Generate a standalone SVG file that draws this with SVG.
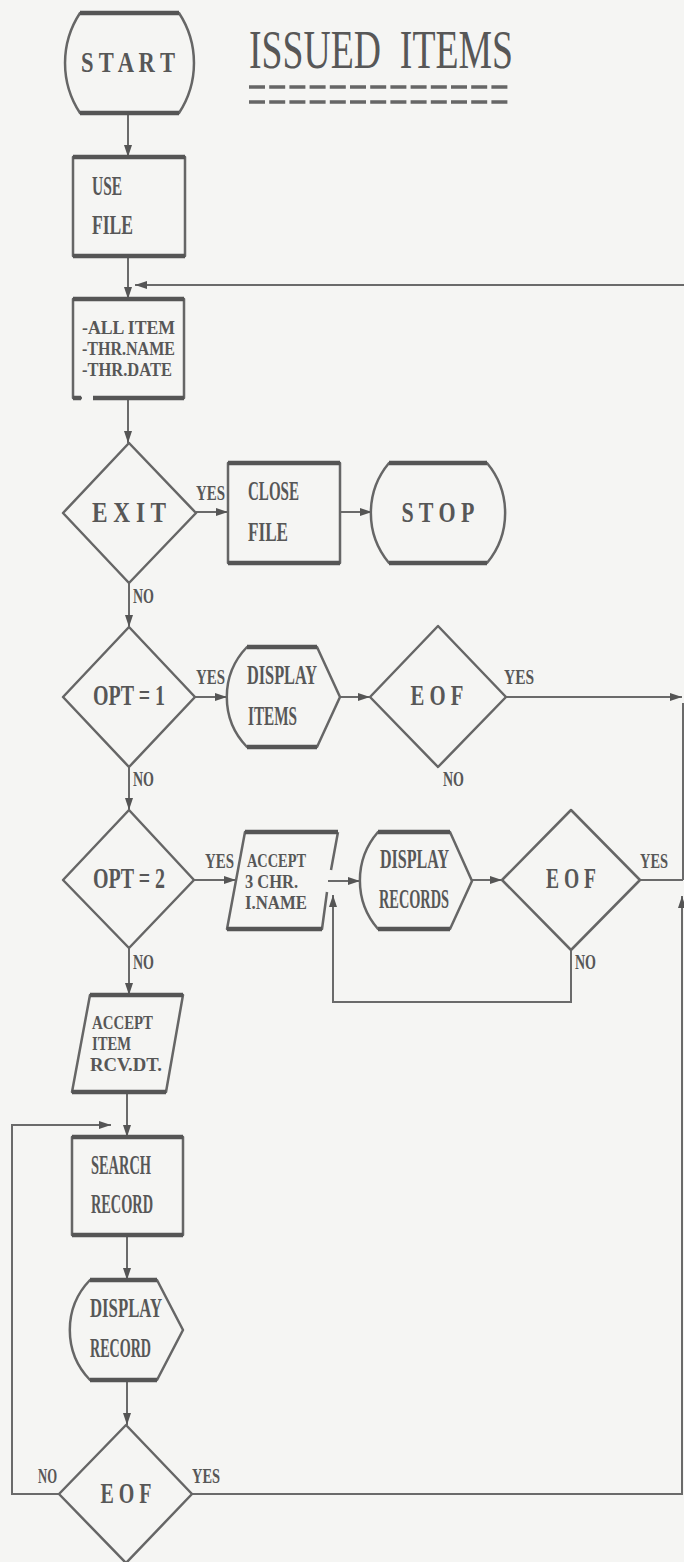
<svg xmlns="http://www.w3.org/2000/svg" width="684" height="1562" viewBox="0 0 684 1562">
<style>
.bg{fill:#f5f5f3}
.sh{fill:none;stroke:#666;stroke-width:2.5;stroke-linejoin:round}
.bd{fill:none;stroke:#555;stroke-width:4.5}
.cn{fill:none;stroke:#6a6a6a;stroke-width:2}
.ar{marker-end:url(#ah)}
text{font-family:"Liberation Serif","DejaVu Serif",serif;fill:#575757;font-weight:bold}
.ttl{font-size:54px;font-weight:normal;white-space:pre}
.c{font-size:29px;text-anchor:middle}
.l{font-size:27px}
.s{font-size:19px}
.y{font-size:22px}
</style>
<defs>
<marker id="ah" markerUnits="userSpaceOnUse" markerWidth="14" markerHeight="10" refX="12" refY="4" orient="auto">
<path d="M0,0 L12,4 L0,8 Z" fill="#555"/>
</marker>
</defs>
<rect class="bg" x="0" y="0" width="684" height="1562"/>

<g id="title">
<text class="ttl" x="249" y="68" textLength="264" lengthAdjust="spacingAndGlyphs">ISSUED  ITEMS</text>
<line x1="249" y1="87" x2="511" y2="87" stroke="#666" stroke-width="3.5" stroke-dasharray="16 4.2"/>
<line x1="249" y1="102" x2="511" y2="102" stroke="#666" stroke-width="3.5" stroke-dasharray="16 4.2"/>
</g>

<g id="connectors">
<path class="cn ar" d="M128,113 V157"/>
<path class="cn ar" d="M128,256 V299"/>
<path class="cn ar" d="M684,285 H135"/>
<path class="cn ar" d="M128,399 V443"/>
<path class="cn ar" d="M196,512 H228"/>
<path class="cn ar" d="M340,512 H372"/>
<path class="cn ar" d="M129,583 V627"/>
<path class="cn ar" d="M195,697 H227"/>
<path class="cn ar" d="M340,697 H370"/>
<path class="cn ar" d="M506,697 H682"/>
<path class="cn" d="M683,703 V880" stroke-width="1.5"/>
<path class="cn ar" d="M129,767 V810"/>
<path class="cn ar" d="M194,880 H236"/>
<path class="cn ar" d="M328,881 H360"/>
<path class="cn ar" d="M472,880 H502"/>
<path class="cn ar" d="M571,950 V1002 H333 V895"/>
<path class="cn" d="M640,880 H683"/>
<path class="cn ar" d="M129,948 V995"/>
<path class="cn ar" d="M127,1092 V1137"/>
<path class="cn ar" d="M59,1494 H12 V1125 H111"/>
<path class="cn ar" d="M127,1235 V1280"/>
<path class="cn ar" d="M127,1380 V1425"/>
<path class="cn ar" d="M192,1494 H682 V896"/>
</g>

<g id="start">
<path class="sh" d="M80,13 H179 A91,91 0 0 1 179,113 H80 A91,91 0 0 1 80,13 Z"/>
<line class="bd" x1="80" y1="13" x2="179" y2="13"/>
<line class="bd" x1="80" y1="113" x2="179" y2="113"/>
<text class="c" x="128" y="72" textLength="94" lengthAdjust="spacingAndGlyphs">S T A R T</text>
</g>

<g id="use-file">
<rect class="sh" x="73" y="157" width="112" height="99"/>
<line class="bd" x1="73" y1="157" x2="185" y2="157"/>
<line class="bd" x1="73" y1="256" x2="185" y2="256"/>
<text class="l" x="92" y="195" textLength="30" lengthAdjust="spacingAndGlyphs">USE</text>
<text class="l" x="92" y="234" textLength="41" lengthAdjust="spacingAndGlyphs">FILE</text>
</g>

<g id="options-menu">
<path class="sh" d="M82,398 H73 V299 H184 V398 H93"/>
<line class="bd" x1="73" y1="299" x2="184" y2="299"/>
<line class="bd" x1="73" y1="398" x2="81" y2="398"/>
<line class="bd" x1="93" y1="398" x2="184" y2="398"/>
<text class="s" x="82" y="334" textLength="93" lengthAdjust="spacingAndGlyphs">-ALL ITEM</text>
<text class="s" x="82" y="355" textLength="93" lengthAdjust="spacingAndGlyphs">-THR.NAME</text>
<text class="s" x="82" y="376" textLength="90" lengthAdjust="spacingAndGlyphs">-THR.DATE</text>
</g>

<g id="exit">
<path class="sh" d="M129,443 L196,513 L129,583 L63,513 Z"/>
<text class="c" x="129" y="522" textLength="74" lengthAdjust="spacingAndGlyphs">E X I T</text>
<text class="y" x="196" y="500" textLength="29" lengthAdjust="spacingAndGlyphs">YES</text>
<text class="y" x="133" y="603" textLength="21" lengthAdjust="spacingAndGlyphs">NO</text>
</g>

<g id="close-file">
<rect class="sh" x="228" y="463" width="112" height="100"/>
<line class="bd" x1="228" y1="463" x2="340" y2="463"/>
<line class="bd" x1="228" y1="563" x2="340" y2="563"/>
<text class="l" x="248" y="500" textLength="51" lengthAdjust="spacingAndGlyphs">CLOSE</text>
<text class="l" x="248" y="541" textLength="40" lengthAdjust="spacingAndGlyphs">FILE</text>
</g>

<g id="stop">
<path class="sh" d="M389,463 H487 A78,78 0 0 1 487,563 H389 A78,78 0 0 1 389,463 Z"/>
<line class="bd" x1="389" y1="463" x2="487" y2="463"/>
<line class="bd" x1="389" y1="563" x2="487" y2="563"/>
<text class="c" x="438" y="522" textLength="73" lengthAdjust="spacingAndGlyphs">S T O P</text>
</g>

<g id="opt1">
<path class="sh" d="M129,627 L195,697 L129,767 L63,697 Z"/>
<text class="c" x="129" y="705" textLength="72" lengthAdjust="spacingAndGlyphs">OPT = 1</text>
<text class="y" x="196" y="684" textLength="29" lengthAdjust="spacingAndGlyphs">YES</text>
<text class="y" x="133" y="786" textLength="21" lengthAdjust="spacingAndGlyphs">NO</text>
</g>

<g id="display-items">
<path class="sh" d="M247,647 H317 L340,697 L317,747 H247 A72,72 0 0 1 247,647 Z"/>
<line class="bd" x1="247" y1="647" x2="317" y2="647"/>
<line class="bd" x1="247" y1="747" x2="317" y2="747"/>
<text class="l" x="247" y="684" textLength="70" lengthAdjust="spacingAndGlyphs">DISPLAY</text>
<text class="l" x="248" y="725" textLength="49" lengthAdjust="spacingAndGlyphs">ITEMS</text>
</g>

<g id="eof1">
<path class="sh" d="M438,626 L506,697 L438,767 L370,697 Z"/>
<text class="c" x="437" y="705" textLength="53" lengthAdjust="spacingAndGlyphs">E O F</text>
<text class="y" x="504" y="684" textLength="30" lengthAdjust="spacingAndGlyphs">YES</text>
<text class="y" x="443" y="786" textLength="21" lengthAdjust="spacingAndGlyphs">NO</text>
</g>

<g id="opt2">
<path class="sh" d="M129,810 L194,880 L129,948 L63,880 Z"/>
<text class="c" x="129" y="888" textLength="72" lengthAdjust="spacingAndGlyphs">OPT = 2</text>
<text class="y" x="205" y="868" textLength="29" lengthAdjust="spacingAndGlyphs">YES</text>
<text class="y" x="133" y="969" textLength="21" lengthAdjust="spacingAndGlyphs">NO</text>
</g>

<g id="accept-name">
<path class="sh" d="M338,832 L331,870 M327,892 L322,929 H227 L245,832 H338"/>
<line class="bd" x1="245" y1="832" x2="338" y2="832"/>
<line class="bd" x1="227" y1="929" x2="322" y2="929"/>
<text class="s" x="247" y="867" textLength="59" lengthAdjust="spacingAndGlyphs">ACCEPT</text>
<text class="s" x="245" y="888" textLength="53" lengthAdjust="spacingAndGlyphs">3 CHR.</text>
<text class="s" x="245" y="909" textLength="62" lengthAdjust="spacingAndGlyphs">I.NAME</text>
</g>

<g id="display-records">
<path class="sh" d="M378,832 H450 L472,881 L450,929 H378 A74,74 0 0 1 378,832 Z"/>
<line class="bd" x1="378" y1="832" x2="450" y2="832"/>
<line class="bd" x1="378" y1="929" x2="450" y2="929"/>
<text class="l" x="380" y="868" textLength="69" lengthAdjust="spacingAndGlyphs">DISPLAY</text>
<text class="l" x="379" y="908" textLength="70" lengthAdjust="spacingAndGlyphs">RECORDS</text>
</g>

<g id="eof2">
<path class="sh" d="M571,810 L640,880 L571,950 L502,880 Z"/>
<text class="c" x="571" y="888" textLength="50" lengthAdjust="spacingAndGlyphs">E O F</text>
<text class="y" x="640" y="868" textLength="28" lengthAdjust="spacingAndGlyphs">YES</text>
<text class="y" x="575" y="969" textLength="21" lengthAdjust="spacingAndGlyphs">NO</text>
</g>

<g id="accept-item">
<path class="sh" d="M90,995 H183 L166,1092 H72 Z"/>
<line class="bd" x1="90" y1="995" x2="183" y2="995"/>
<line class="bd" x1="72" y1="1092" x2="166" y2="1092"/>
<text class="s" x="92" y="1029" textLength="61" lengthAdjust="spacingAndGlyphs">ACCEPT</text>
<text class="s" x="92" y="1050" textLength="39" lengthAdjust="spacingAndGlyphs">ITEM</text>
<text class="s" x="90" y="1071" textLength="72" lengthAdjust="spacingAndGlyphs">RCV.DT.</text>
</g>

<g id="search-record">
<rect class="sh" x="72" y="1137" width="111" height="98"/>
<line class="bd" x1="72" y1="1137" x2="183" y2="1137"/>
<line class="bd" x1="72" y1="1235" x2="183" y2="1235"/>
<text class="l" x="91" y="1174" textLength="60" lengthAdjust="spacingAndGlyphs">SEARCH</text>
<text class="l" x="91" y="1213" textLength="62" lengthAdjust="spacingAndGlyphs">RECORD</text>
</g>

<g id="display-record">
<path class="sh" d="M90,1280 H157 L183,1330 L157,1380 H90 A72,72 0 0 1 90,1280 Z"/>
<line class="bd" x1="90" y1="1280" x2="157" y2="1280"/>
<line class="bd" x1="90" y1="1380" x2="157" y2="1380"/>
<text class="l" x="90" y="1317" textLength="72" lengthAdjust="spacingAndGlyphs">DISPLAY</text>
<text class="l" x="90" y="1357" textLength="61" lengthAdjust="spacingAndGlyphs">RECORD</text>
</g>

<g id="eof3">
<path class="sh" d="M126,1425 L192,1494 L126,1563 L59,1494 Z"/>
<text class="c" x="126" y="1503" textLength="51" lengthAdjust="spacingAndGlyphs">E O F</text>
<text class="y" x="38" y="1483" textLength="19" lengthAdjust="spacingAndGlyphs">NO</text>
<text class="y" x="192" y="1483" textLength="28" lengthAdjust="spacingAndGlyphs">YES</text>
</g>
</svg>
